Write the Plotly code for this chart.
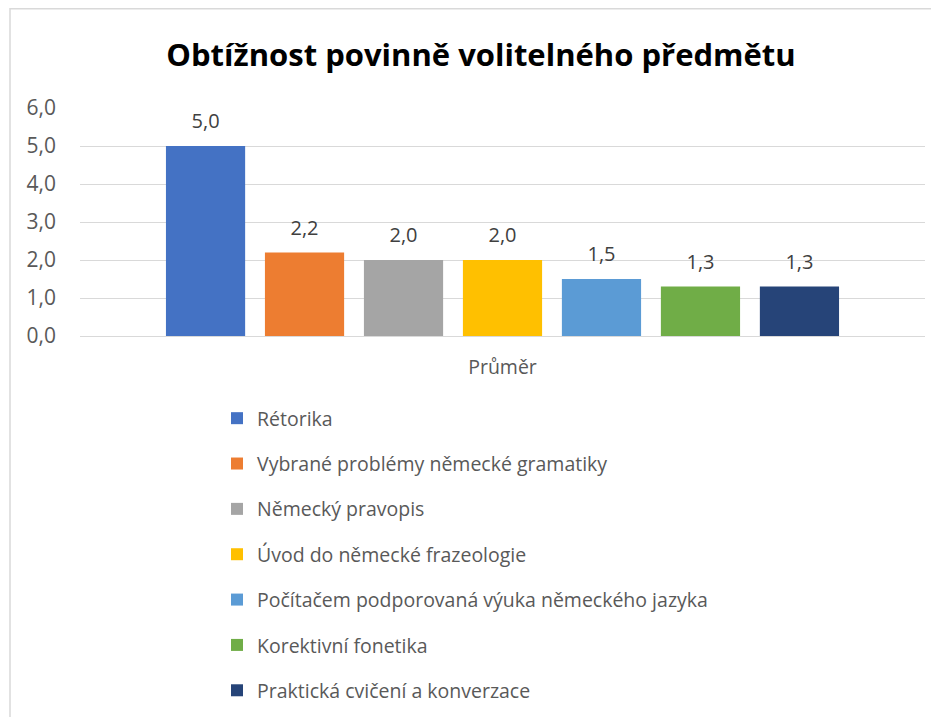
import plotly.graph_objects as go

category = ["Průměr"]
series_names = [
    "Rétorika",
    "Vybrané problémy německé gramatiky",
    "Německý pravopis",
    "Úvod do německé frazeologie",
    "Počítačem podporovaná výuka německého jazyka",
    "Korektivní fonetika",
    "Praktická cvičení a konverzace",
]
series_values = [5.0, 2.2, 2.0, 2.0, 1.5, 1.3, 1.3]
colors = ["#4472C4", "#ED7D31", "#A5A5A5", "#FFC000", "#5B9BD5", "#70AD47", "#264478"]
y_ticks = [0, 1, 2, 3, 4, 5, 6]
y_tick_labels = ["0,0", "1,0", "2,0", "3,0", "4,0", "5,0", "6,0"]

FONT = "Open Sans"

fig = go.Figure()
for i, (name, val, col) in enumerate(zip(series_names, series_values, colors)):
    fig.add_trace(go.Bar(
        x=category, y=[val], name=name, marker_color=col, marker_line_width=0,
        legendgroup=f"g{i}",
        texttemplate="<span style='font-size:20px'>%{y:.1f}</span><br> ",
        textposition="outside", cliponaxis=False,
        textfont=dict(family=FONT, size=9, color="#404040"),
    ))

# page has an 8px body margin; figure coordinates = screen - 8
OFF = 8
W, H = 931, 760
ml, mr, mt = 72, 14, 100
plot_bottom = 336 - OFF
mb = H - plot_bottom
pw, ph = W - ml - mr, H - mt - mb

def px_x(p):
    return (p - OFF - ml) / pw

def px_y(p):
    return (H - mb - (p - OFF)) / ph

fig.update_layout(
    width=W, height=H,
    margin=dict(l=ml, r=mr, t=mt, b=mb),
    paper_bgcolor="white", plot_bgcolor="white",
    separators=", ",
    barmode="group", bargap=0.18, bargroupgap=0.2,
    title=dict(text="<b>Obtížnost povinně volitelného předmětu</b>",
               x=(481 - OFF) / W, xanchor="center", y=1 - (55 - OFF) / H, yanchor="middle",
               font=dict(family=FONT, size=31, color="black")),
    font=dict(family=FONT, size=20, color="#595959"),
    xaxis=dict(showgrid=False, showline=False, ticks="", ticklabelstandoff=17,
               tickfont=dict(size=19.5, color="#595959")),
    yaxis=dict(range=[0, 6], tickvals=y_ticks, ticktext=y_tick_labels,
               showgrid=True, gridcolor="#D9D9D9", gridwidth=1,
               zeroline=True, zerolinecolor="#D9D9D9", zerolinewidth=1,
               showline=False, ticks="", ticklabelstandoff=23,
               tickfont=dict(size=21, color="#595959")),
    legend=dict(orientation="v", x=px_x(217), xanchor="left",
                y=px_y(399), yanchor="top", traceorder="grouped",
                tracegroupgap=17, font=dict(family=FONT, size=19.5, color="#595959"),
                bgcolor="rgba(0,0,0,0)"),
    shapes=[dict(type="rect", xref="paper", yref="paper",
                 x0=px_x(10), x1=px_x(960), y0=px_y(790), y1=px_y(8.75),
                 line=dict(color="#D9D9D9", width=1.5), fillcolor="rgba(0,0,0,0)",
                 layer="below")],
)

fig.write_html("out.html")
